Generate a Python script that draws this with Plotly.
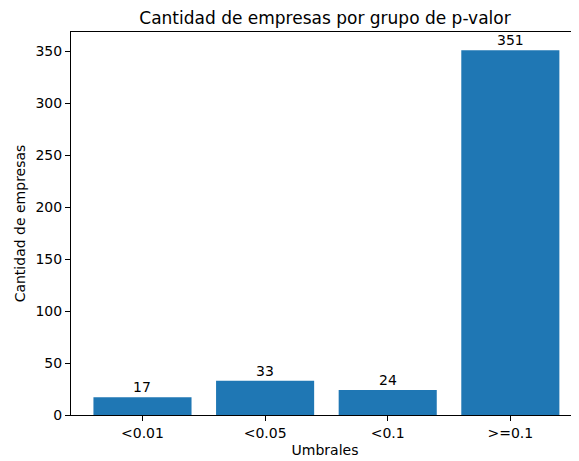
import plotly.graph_objects as go

categories = ["<0.01", "<0.05", "<0.1", ">=0.1"]
counts = [17, 33, 24, 351]
positions = list(range(len(categories)))

FONT = "DejaVu Sans"

fig = go.Figure(go.Bar(
    x=positions, y=counts, width=0.8,
    marker=dict(color="#1f77b4", line=dict(width=0)),
    hoverinfo="x+y",
))

# bar value labels just above each bar (like matplotlib bar_label)
for xp, c in zip(positions, counts):
    fig.add_annotation(x=xp, y=c, text=str(c), showarrow=False, yanchor="bottom",
                       yshift=0, font=dict(family=FONT, size=14, color="black"))

axis_common = dict(showline=True, linecolor="black", linewidth=1,
                   ticks="outside", ticklen=5, tickcolor="black", showgrid=False,
                   zeroline=False, automargin=False,
                   tickfont=dict(family=FONT, size=14, color="black"))

fig.update_layout(
    width=571, height=453,
    margin=dict(l=63, r=0, t=24, b=46),
    plot_bgcolor="white", paper_bgcolor="white",
    title=dict(text="Cantidad de empresas por grupo de p-valor", x=0.5, xanchor="center",
               xref="paper", y=0.978, yref="container", yanchor="middle", pad=dict(t=0, b=0),
               font=dict(family=FONT, size=17, color="black")),
    xaxis=dict(range=[-0.583, 3.56], tickvals=positions, ticktext=categories, mirror=True,
               title=dict(text="Umbrales", font=dict(family=FONT, size=14, color="black"), standoff=5),
               **axis_common),
    yaxis=dict(range=[0, 368.55], tickvals=[0, 50, 100, 150, 200, 250, 300, 350], mirror=False,
               title=dict(text="Cantidad de empresas", font=dict(family=FONT, size=14, color="black"), standoff=6),
               **axis_common),
    showlegend=False,
)
fig.write_html("out.html")
